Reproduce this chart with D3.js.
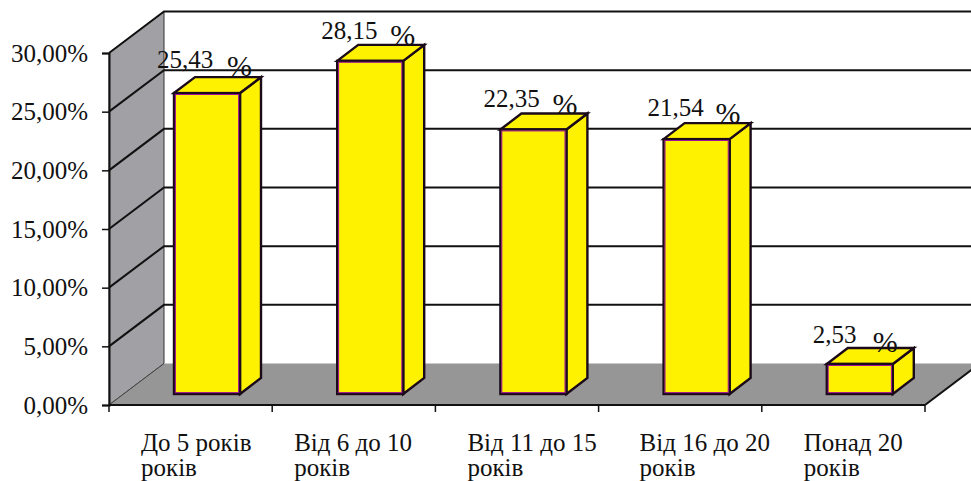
<!DOCTYPE html>
<html>
<head>
<meta charset="utf-8">
<script src="https://cdn.jsdelivr.net/npm/d3@7"></script>
<style>
  html, body { margin: 0; padding: 0; background: #fff; }
  svg { display: block; }
  text { font-family: "Liberation Serif", serif; fill: #111; }
</style>
</head>
<body>
<svg id="chart" width="971" height="481"></svg>
<script>
// Work experience groups and their shares, in percent
const groupsTop = ["До 5 років", "Від 6 до 10", "Від 11 до 15", "Від 16 до 20", "Понад 20"];
const groupsBottom = ["років", "років", "років", "років", "років"];
const shares = [25.43, 28.15, 22.35, 21.54, 2.53];
const shareLabels = ["25,43", "28,15", "22,35", "21,54", "2,53"];
const axisTicks = [0, 5, 10, 15, 20, 25, 30];

// Hand placement of the labels around each column
const categoryShift = [32, 22, 32, 41, 42];
const numberNudge = [[-17, -9], [-16, -6], [-17, -7], [-16, -7], [-14, -5]];
const percentNudge = [[53, -1], [53, 0], [52, 0], [52, 0], [46, 4]];

const svg = d3.select("#chart");

// Front plane of the 3D box
const x = d3.scaleBand().domain(groupsTop).range([109, 925]);
const y = d3.scaleLinear().domain([0, 30]).range([405, 53]);
// Columns stand a little in from the front edge of the floor
const yBar = d3.scaleLinear().domain([0, 30]).range([394, 39]);

// Depth of the box and of a single column
const wall = { dx: 55, dy: -41.5 };
const col = { dx: 21, dy: -16, width: 66, inset: 65 };
const poly = pts => pts.map(p => p.join(",")).join(" ");
const x0 = x.range()[0], x1 = x.range()[1];
const yTop = y(30), yBase = y(0);

// Side wall
svg.append("polygon")
  .attr("points", poly([[x0, yTop], [x0 + wall.dx, yTop + wall.dy], [x0 + wall.dx, yBase + wall.dy], [x0, yBase]]))
  .attr("fill", "#a1a1a5").attr("stroke", "#333").attr("stroke-width", 1);

// Floor
svg.append("polygon")
  .attr("points", poly([[x0, yBase], [x0 + wall.dx, yBase + wall.dy], [x1 + wall.dx, yBase + wall.dy], [x1, yBase]]))
  .attr("fill", "#969696");

// Gridlines running along the side wall and the back wall
const grid = svg.append("g").attr("stroke", "#111").attr("stroke-width", 2).attr("fill", "none");
axisTicks.forEach(t => {
  if (t > 0) {
    grid.append("polyline")
      .attr("points", poly([[x0, y(t)], [x0 + wall.dx, y(t) + wall.dy], [971, y(t) + wall.dy]]));
  } else {
    grid.append("line")
      .attr("x1", x0).attr("y1", y(t)).attr("x2", x0 + wall.dx).attr("y2", y(t) + wall.dy)
      .attr("stroke", "#444").attr("stroke-width", 1);
  }
});

// Right edge of the floor
svg.append("line")
  .attr("x1", x1).attr("y1", yBase).attr("x2", x1 + wall.dx).attr("y2", yBase + wall.dy)
  .attr("stroke", "#111").attr("stroke-width", 2);

// Value axis
const yAxis = svg.append("g").attr("transform", `translate(${x0},0)`)
  .call(d3.axisLeft(y).tickValues(axisTicks).tickSize(7).tickFormat(d => d3.format(".2f")(d).replace(".", ",") + "%"));
yAxis.select(".domain").attr("stroke", "#111").attr("stroke-width", 2);
yAxis.selectAll(".tick line").attr("stroke", "#111").attr("stroke-width", 1.5);
yAxis.selectAll(".tick text")
  .attr("x", -21).attr("dy", "0.32em")
  .style("font-family", '"Liberation Serif", serif').style("font-size", "25px").attr("fill", "#111");

// Category axis
const xAxis = svg.append("g").attr("transform", `translate(0,${yBase})`);
xAxis.append("line").attr("x1", x0).attr("x2", x1).attr("stroke", "#111").attr("stroke-width", 2);
groupsTop.forEach(g => {
  xAxis.append("line").attr("x1", x(g)).attr("x2", x(g)).attr("y1", 0).attr("y2", 7).attr("stroke", "#111").attr("stroke-width", 1.5);
});
xAxis.append("line").attr("x1", x1).attr("x2", x1).attr("y1", 0).attr("y2", 7).attr("stroke", "#111").attr("stroke-width", 1.5);

// Columns
const bars = svg.append("g").selectAll("g").data(shares).join("g");
const barLeft = (d, i) => x(groupsTop[i]) + col.inset;
const barBase = yBar(0);
const barTop = d => yBar(d);

const faceStyle = sel => sel.attr("fill", "#fff200").attr("stroke", "#1a0a1a").attr("stroke-width", 2.4).attr("stroke-linejoin", "miter");

bars.append("polygon").call(faceStyle).attr("points", (d, i) => {
  const l = barLeft(d, i) + col.width, t = barTop(d);
  return poly([[l, t], [l + col.dx, t + col.dy], [l + col.dx, barBase + col.dy], [l, barBase]]);
});
bars.append("polygon").call(faceStyle).attr("points", (d, i) => {
  const l = barLeft(d, i), t = barTop(d);
  return poly([[l, t], [l + col.dx, t + col.dy], [l + col.width + col.dx, t + col.dy], [l + col.width, t]]);
});
bars.append("rect").call(faceStyle)
  .attr("x", (d, i) => barLeft(d, i)).attr("y", d => barTop(d))
  .attr("width", col.width).attr("height", d => barBase - barTop(d));
// Thin purple trim just inside each front face
bars.append("rect")
  .attr("x", (d, i) => barLeft(d, i) + 1.4).attr("y", d => barTop(d) + 1.4)
  .attr("width", col.width - 2.8).attr("height", d => barBase - barTop(d) - 2.8)
  .attr("fill", "none").attr("stroke", "#a0109a").attr("stroke-width", 1);

// Value labels: the number, then a detached, larger percent sign
bars.append("text")
  .attr("x", (d, i) => barLeft(d, i) + numberNudge[i][0])
  .attr("y", (d, i) => barTop(d) + col.dy + numberNudge[i][1])
  .style("font-size", "25px")
  .text((d, i) => shareLabels[i]);
bars.append("text")
  .attr("x", (d, i) => barLeft(d, i) + percentNudge[i][0])
  .attr("y", (d, i) => barTop(d) + col.dy + percentNudge[i][1])
  .style("font-size", "30px")
  .text("%");

// Category labels on two lines
const labels = svg.append("g").selectAll("text").data(groupsTop).join("text")
  .attr("x", (d, i) => x(d) + categoryShift[i]).attr("y", 451).style("font-size", "25px");
labels.append("tspan").text(d => d);
labels.append("tspan").attr("x", (d, i) => x(d) + categoryShift[i]).attr("dy", 24.5).text((d, i) => groupsBottom[i]);
</script>
</body>
</html>
